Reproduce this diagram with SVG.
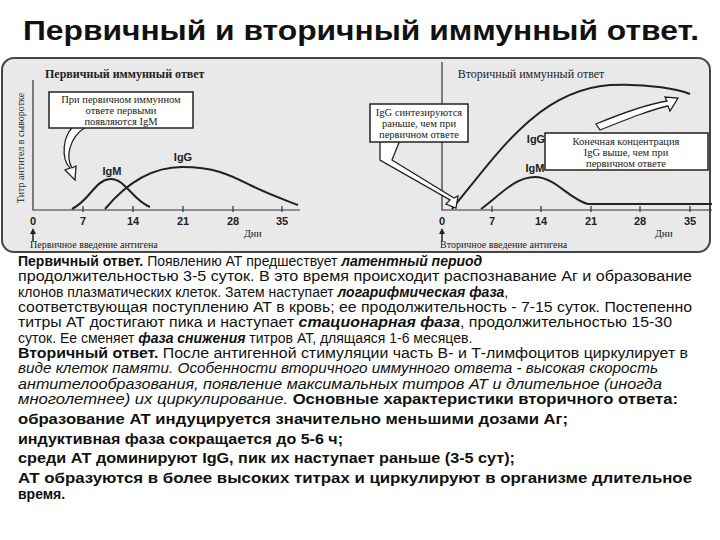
<svg xmlns="http://www.w3.org/2000/svg" width="720" height="540" viewBox="0 0 720 540">
<style>
.t{font-family:"Liberation Sans",Arial,sans-serif;font-size:14px;fill:#111}
.b{font-weight:bold}.i{font-style:italic}
.s{font-family:"Liberation Serif","Times New Roman",serif;font-size:10px;fill:#222}
.g{font-family:"Liberation Sans",Arial,sans-serif;font-size:11px;font-weight:bold;fill:#222}
.ax{stroke:#333;stroke-width:1.2;fill:none}
.cv{stroke:#222;stroke-width:2;fill:none}
.box{fill:#fff;stroke:#222;stroke-width:1.5}
.arr{fill:#fff;stroke:#222;stroke-width:1.3}
</style>
<rect width="720" height="540" fill="#fff"/>
<text x="361" y="40" text-anchor="middle" class="t b" style="font-size:27px" textLength="676" lengthAdjust="spacingAndGlyphs">Первичный и вторичный иммунный ответ.</text>
<g id="figure">
<rect x="2" y="58" width="708" height="194" rx="12" fill="#e9e9ea" stroke="#444" stroke-width="2"/>
<text x="45" y="78" class="s b" style="font-size:12px">Первичный иммунный ответ</text>
<text x="531" y="78" class="s" text-anchor="middle" style="font-size:12px">Вторичный иммунный ответ</text>
<text transform="translate(24,148) rotate(-90)" class="s" text-anchor="middle">Титр антител в сыворотке</text>
<path class="ax" d="M33,80 V210 H300 M442,62 V210 H712"/>
<g class="ax"><path d="M83,206v6M133,206v6M183,206v6M233,206v6M282,206v6M492,206v6M541,206v6M591,206v6M640,206v6M690,206v6"/></g>
<g class="g" text-anchor="middle"><text x="33" y="225">0</text><text x="83" y="225">7</text><text x="133" y="225">14</text><text x="183" y="225">21</text><text x="233" y="225">28</text><text x="282" y="225">35</text>
<text x="442" y="225">0</text><text x="492" y="225">7</text><text x="541" y="225">14</text><text x="591" y="225">21</text><text x="640" y="225">28</text><text x="690" y="225">35</text></g>
<text x="244" y="237" class="s">Дни</text><text x="655" y="237" class="s">Дни</text>
<path d="M33,241V231M442,241V231" stroke="#222" stroke-width="1.5"/>
<path d="M30,234L33,228L36,234ZM439,234L442,228L445,234Z" fill="#222"/>
<text x="30" y="248" class="s">Первичное введение антигена</text>
<text x="440" y="248" class="s">Вторичное введение антигена</text>
<path class="cv" d="M72,209 C90,200 95,180 110,179 C125,178 132,200 150,207"/>
<path class="cv" d="M105,209 C125,185 150,167 182,167 C215,167 230,175 250,185 C270,195 285,200 298,205"/>
<text x="112" y="175" class="g" text-anchor="middle">IgM</text>
<text x="183" y="161" class="g" text-anchor="middle">IgG</text>
<path class="cv" d="M452,209 C500,150 540,90 610,85 C650,83 680,90 690,94"/>
<path class="cv" d="M481,209 C500,195 515,177 535,177 C555,177 570,200 588,204 H712"/>
<text x="535" y="172" class="g" text-anchor="middle">IgM</text>
<text x="536" y="143" class="g" text-anchor="middle">IgG</text>
<path class="arr" d="M78,122 C60,135 62,160 70,168 L65,170 L75,180 L76,166 L72,168 C66,158 68,138 86,127 Z"/>
<rect class="box" x="49" y="92" width="144" height="36"/>
<g class="s" text-anchor="middle" style="font-size:10.5px"><text x="121" y="103">При первичном иммунном</text><text x="121" y="114">ответе первыми</text><text x="121" y="125">появляются IgM</text></g>
<path class="arr" d="M380,138 L380,160 L450,200 L446,204 L456,208 L458,196 L454,198 L392,160 L400,140 Z"/>
<rect class="box" x="370" y="104" width="98" height="38"/>
<g class="s" text-anchor="middle" style="font-size:10.5px"><text x="419" y="116">IgG синтезируются</text><text x="419" y="127">раньше, чем при</text><text x="419" y="138">первичном ответе</text></g>
<path class="arr" d="M600,130 C630,118 650,110 668,106 L670,111 L678,98 L665,97 L667,101 C648,104 625,112 596,124 Z"/>
<rect class="box" x="545" y="133" width="163" height="37"/>
<g class="s" text-anchor="middle" style="font-size:10.5px"><text x="626" y="145">Конечная концентрация</text><text x="626" y="156">IgG выше, чем при</text><text x="626" y="167">первичном ответе</text></g>
</g>
<g id="text" class="t">
<text x="18" y="266"><tspan class="b">Первичный ответ.</tspan> Появлению АТ предшествует <tspan class="b i">латентный период</tspan></text>
<text x="18" y="281" textLength="674" lengthAdjust="spacingAndGlyphs">продолжительностью 3-5 суток. В это время происходит распознавание Аг и образование</text>
<text x="18" y="297">клонов плазматических клеток. Затем наступает <tspan class="b i">логарифмическая фаза</tspan>,</text>
<text x="18" y="312" textLength="674" lengthAdjust="spacingAndGlyphs">соответствующая поступлению АТ в кровь; ее продолжительность - 7-15 суток. Постепенно</text>
<text x="18" y="327" textLength="654" lengthAdjust="spacingAndGlyphs">титры АТ достигают пика и наступает <tspan class="b i">стационарная фаза</tspan>, продолжительностью 15-30</text>
<text x="18" y="343">суток. Ее сменяет <tspan class="b i">фаза снижения</tspan> титров АТ, длящаяся 1-6 месяцев.</text>
<text x="18" y="358" textLength="670" lengthAdjust="spacingAndGlyphs"><tspan class="b">Вторичный ответ.</tspan> После антигенной стимуляции часть В- и Т-лимфоцитов циркулирует в</text>
<text x="18" y="373" class="i" textLength="640" lengthAdjust="spacingAndGlyphs">виде клеток памяти. Особенности вторичного иммунного ответа - высокая скорость</text>
<text x="18" y="389" class="i" textLength="644" lengthAdjust="spacingAndGlyphs">антителообразования, появление максимальных титров АТ и длительное (иногда</text>
<text x="18" y="404" textLength="660" lengthAdjust="spacingAndGlyphs"><tspan class="i">многолетнее) их циркулирование.</tspan> <tspan class="b">Основные характеристики вторичного ответа:</tspan></text>
<text x="18" y="424" class="b" textLength="550" lengthAdjust="spacingAndGlyphs">образование АТ индуцируется значительно меньшими дозами Аг;</text>
<text x="18" y="444" class="b" textLength="325" lengthAdjust="spacingAndGlyphs">индуктивная фаза сокращается до 5-6 ч;</text>
<text x="18" y="463" class="b" textLength="497" lengthAdjust="spacingAndGlyphs">среди АТ доминируют IgG, пик их наступает раньше (3-5 сут);</text>
<text x="18" y="483" class="b" textLength="674" lengthAdjust="spacingAndGlyphs">АТ образуются в более высоких титрах и циркулируют в организме длительное</text>
<text x="18" y="499" class="b">время.</text>
</g>
</svg>
